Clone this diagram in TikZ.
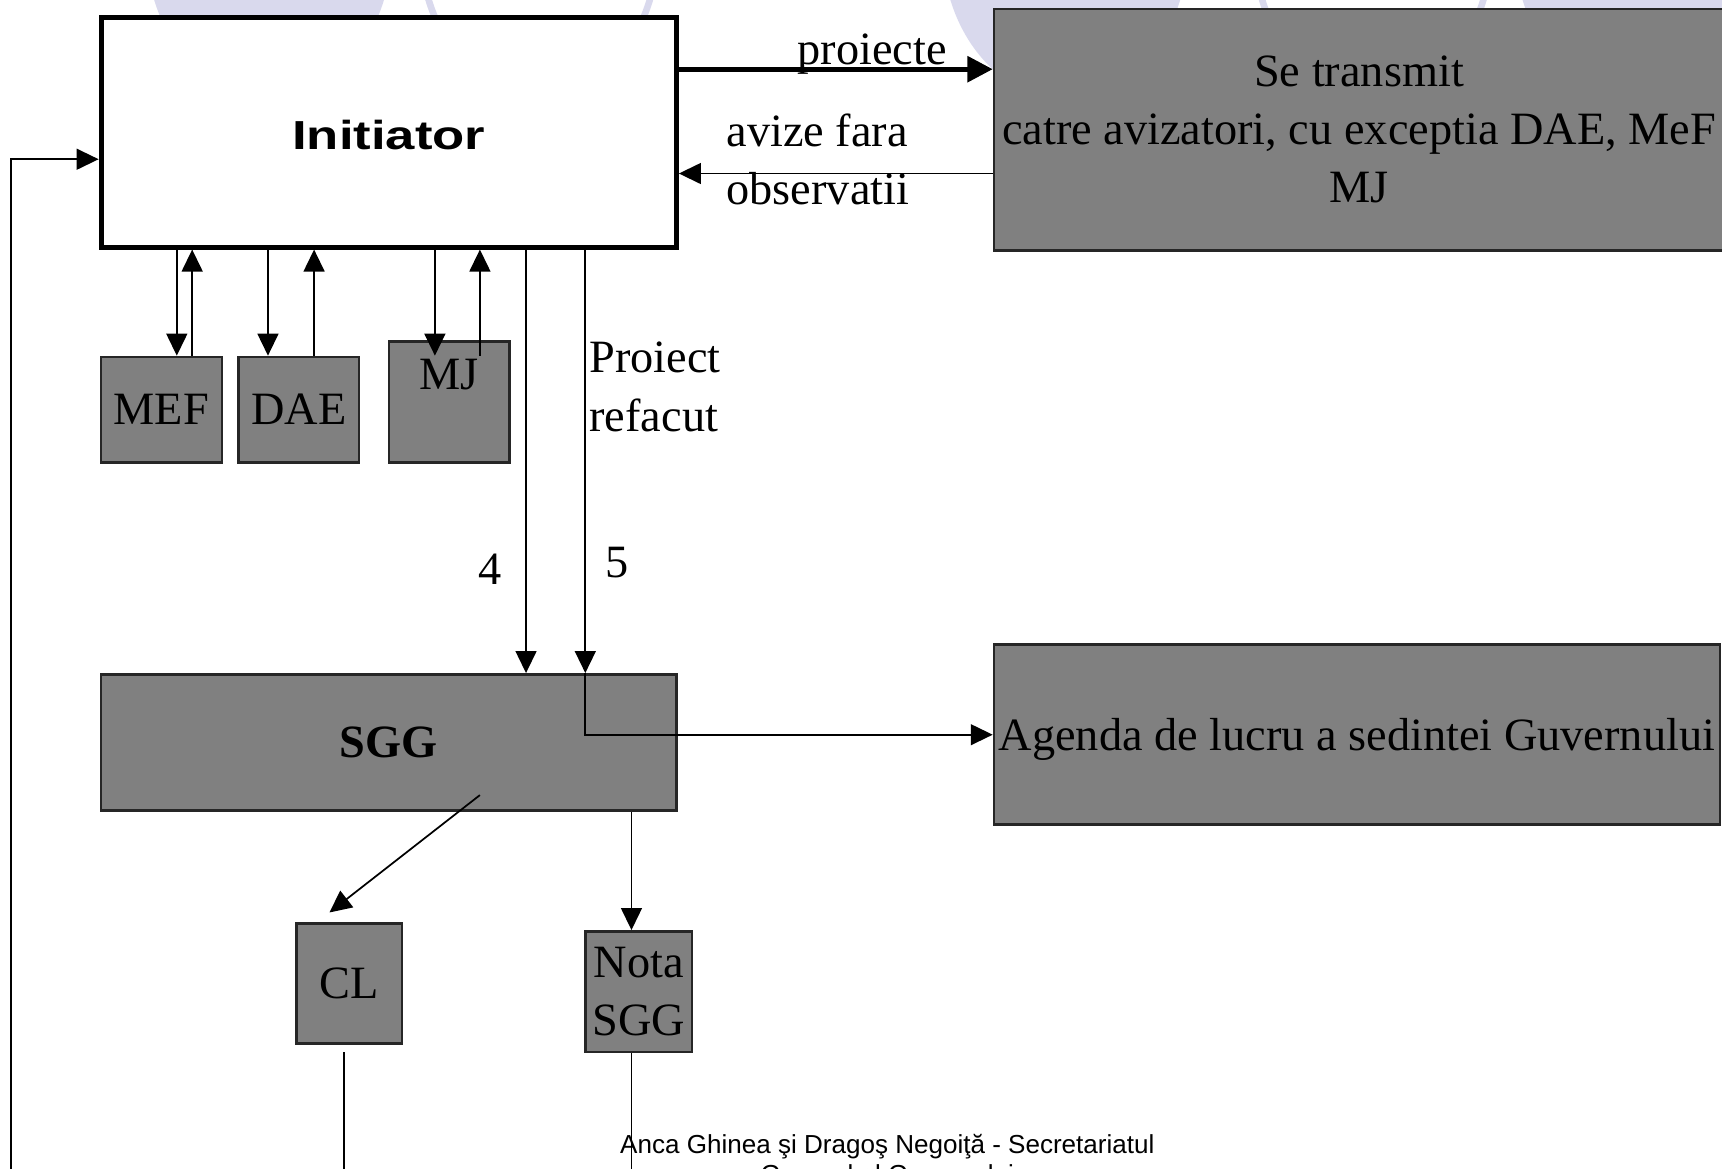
\documentclass[tikz,border=0pt]{standalone}
\usepackage{fontspec}
\setmainfont{Liberation Serif}
\setsansfont{Liberation Sans}
\newfontfamily\initfont{Liberation Sans}[FakeStretch=1.3]
\usetikzlibrary{arrows.meta}
\definecolor{slidegray}{RGB}{128,128,128}
\definecolor{lavender}{RGB}{217,217,237}
\def\txtsize{\fontsize{24}{30.2}\selectfont}

\begin{document}
\begin{tikzpicture}[x=0.02cm, y=-0.02cm, font=\txtsize, line width=0.9pt,
    >={Triangle[length=0.4cm,width=0.38cm]}]
    \tikzstyle{box}=[draw=black!85, line width=1.3pt, fill=slidegray, inner sep=0pt, align=center]
    \tikzstyle{conn}=[->, line width=0.9pt]
    \tikzstyle{lbl}=[inner sep=0pt, align=left]
    \useasboundingbox (0,0) rectangle (1568,1064);

    % slide background
    \fill[lavender] (245,-50) ellipse [x radius=2.24cm, y radius=2.8cm];
    \draw[lavender, line width=0.12cm] (491,-50) ellipse [x radius=2.16cm, y radius=2.76cm];
    \fill[lavender] (970,-50) ellipse [x radius=2.24cm, y radius=2.8cm];
    \draw[lavender, line width=0.12cm] (1250,-50) ellipse [x radius=2.16cm, y radius=2.76cm];
    \fill[lavender] (1491,-50) ellipse [x radius=2.24cm, y radius=2.8cm];

    \node[draw=black, line width=0.09cm, fill=white, minimum width=10.48cm, minimum height=4.18cm,
        text height=0.62cm, font=\initfont\bfseries\fontsize{21}{25}\selectfont] (init) at (354,120.5) {Initiator};
    \node[box, minimum width=13.3cm, minimum height=4.4cm] (avizatori) at (1237.5,118)
        {Se transmit\\catre avizatori, cu exceptia DAE, MeF\\MJ};
    \node[box, minimum width=2.2cm, minimum height=1.92cm] (mef) at (147,373) {MEF};
    \node[box, minimum width=2.2cm, minimum height=1.92cm] (dae) at (272,373) {DAE};
    \node[box, minimum width=2.2cm, minimum height=2.2cm, text height=0.56cm, text depth=1cm] (mj) at (409,366) {MJ};
    \node[box, minimum width=10.48cm, minimum height=2.48cm, font=\txtsize\bfseries] (sgg) at (354,676) {SGG};
    \node[box, minimum width=13.22cm, minimum height=3.28cm, text depth=0pt] (agenda) at (1235.5,669)
        {Agenda de lucru a sedintei Guvernului};
    \node[box, minimum width=1.92cm, minimum height=2.18cm] (cl) at (318,895.5) {CL};
    \node[box, minimum width=1.94cm, minimum height=2.2cm] (nota) at (581.5,903) {Nota\\SGG};

    % initiator <-> avizatori
    \coordinate (p1) at ([yshift=1.15cm]init.east);
    \coordinate (p2) at ([yshift=-0.75cm]init.east);
    \draw[conn, line width=0.09cm, >={Triangle[length=0.46cm,width=0.46cm]}] (p1) -- (p1 -| avizatori.west)
        node[pos=0.616, anchor=base, yshift=0.09cm] {proiecte};
    \draw[conn] (p2 -| avizatori.west) -- (p2)
        node[lbl, pos=0.557, yshift=0.25cm] {avize fara\\observatii};

    % MEF, DAE, MJ
    \coordinate (m1) at ([xshift=0.28cm]mef.north);
    \coordinate (m2) at ([xshift=0.56cm]mef.north);
    \coordinate (d1) at ([xshift=-0.56cm]dae.north);
    \coordinate (d2) at ([xshift=0.28cm]dae.north);
    \coordinate (j1) at ([xshift=-0.26cm,yshift=-0.28cm]mj.north);
    \coordinate (j2) at ([xshift=0.56cm,yshift=-0.28cm]mj.north);
    \draw[conn] (m1 |- init.south) -- (m1);
    \draw[conn] (m2) -- (m2 |- init.south);
    \draw[conn] (d1 |- init.south) -- (d1);
    \draw[conn] (d2) -- (d2 |- init.south);
    \draw[conn] (j1 |- init.south) -- (j1);
    \draw[conn] (j2) -- (j2 |- init.south);

    % towards SGG
    \coordinate (s4) at ([xshift=2.5cm]sgg.north);
    \coordinate (s5) at ([xshift=3.58cm]sgg.north);
    \draw[conn] (s4 |- init.south) -- (s4) node[lbl, pos=0.755, left, xshift=-0.42cm] {4};
    \draw[conn] (s5 |- init.south) -- (s5)
        node[lbl, pos=0.74, right, xshift=0.36cm] {5}
        node[lbl, pos=0.324, right, xshift=0.06cm] {Proiect\\refacut};
    \draw[conn] (s5) -- (s5 |- agenda.west) -- (agenda.west);

    % out of SGG
    \coordinate (c1) at ([xshift=1.66cm,yshift=-0.96cm]sgg.center);
    \coordinate (c2) at ([xshift=-0.36cm,yshift=0.18cm]cl.north);
    \coordinate (n1) at ([xshift=-0.13cm]nota.north);
    \draw[conn] (c1) -- (c2);
    \draw[conn] (n1 |- sgg.south) -- (n1);

    % lines running off the slide
    \coordinate (bottom) at (0,1080);
    \coordinate (cb) at ([xshift=-0.1cm,yshift=-0.14cm]cl.south);
    \coordinate (fb) at ([yshift=-0.49cm]init.west);
    \coordinate (lft) at (10,1080);
    \draw (cb) -- (cb |- bottom);
    \draw (n1 |- nota.south) -- (n1 |- bottom);
    \draw[conn] (lft) |- (fb);

    \node[inner sep=0pt, anchor=north, align=center, font=\sffamily\fontsize{13.5}{15.4}\selectfont] (footer) at (808,1032)
        {Anca Ghinea şi Dragoş Negoiţă - Secretariatul\\General al Guvernului};
\end{tikzpicture}
\end{document}
